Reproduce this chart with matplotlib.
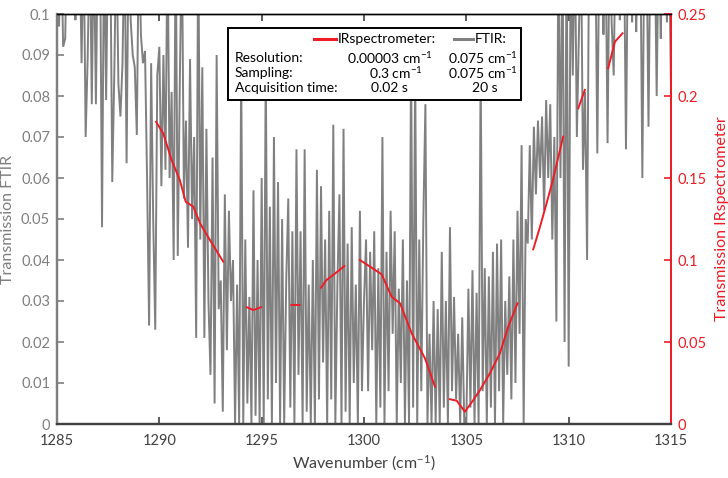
import numpy as np
import matplotlib
matplotlib.use("Agg")
import matplotlib.pyplot as plt
from matplotlib.patches import Rectangle
from matplotlib.lines import Line2D

plt.rcParams["font.family"] = ["Lato", "DejaVu Sans"]
plt.rcParams["mathtext.fontset"] = "custom"
plt.rcParams["mathtext.rm"] = "Lato"
plt.rcParams["mathtext.it"] = "Lato:italic"

# ---------------------------------------------------------------- data
# FTIR transmission, read every 0.1 cm-1 (values > 0.1 run off the top)
f1285 = [0.12, 0.097, 0.12, 0.092, 0.094, 0.12, 0.12, 0.12, 0.12, 0.0985]
f1286 = [0.12, 0.12, 0.088, 0.12, 0.070, 0.0895, 0.12, 0.078, 0.12, 0.078]
f1287 = [0.12, 0.12, 0.048, 0.12, 0.079, 0.12, 0.12, 0.059, 0.0855, 0.12]
f1288 = [0.083, 0.075, 0.088, 0.12, 0.0636, 0.12, 0.0985, 0.09, 0.087, 0.0705]
f1289 = [0.12, 0.095, 0.088, 0.091, 0.06, 0.024, 0.088, 0.05, 0.023, 0.085]
f1290 = [0.092, 0.058, 0.09, 0.062, 0.12, 0.06, 0.081, 0.04, 0.12, 0.041]
f1291 = [0.083, 0.12, 0.055, 0.074, 0.043, 0.089, 0.05, 0.07, 0.021, 0.12]
f1292 = [0.045, 0.087, 0.021, 0.072, 0.03, 0.012, 0.065, 0.005, 0.09, 0.028]
f1293 = [0.035, 0.003, 0.056, 0.018, 0.052, 0.03, 0.04, 0.0, 0.034, 0.0]
f1294 = [0.088, 0.0, 0.045, 0.005, 0.031, 0.0, 0.057, 0.002, 0.04, 0.0]
f1295 = [0.06, 0.0, 0.088, 0.006, 0.053, 0.0, 0.07, 0.01, 0.059, 0.0]
f1296 = [0.05, 0.0, 0.035, 0.055, 0.004, 0.047, 0.0, 0.067, 0.012, 0.047]
f1297 = [0.0, 0.067, 0.003, 0.034, 0.0, 0.04, 0.0, 0.062, 0.006, 0.058]
f1298 = [0.015, 0.045, 0.0, 0.052, 0.006, 0.073, 0.0, 0.034, 0.056, 0.0]
f1299 = [0.072, 0.003, 0.044, 0.0, 0.048, 0.01, 0.034, 0.0, 0.052, 0.008]
f1300 = [0.03, 0.045, 0.008, 0.042, 0.018, 0.047, 0.0, 0.038, 0.004, 0.07]
f1301 = [0.0, 0.042, 0.008, 0.052, 0.022, 0.047, 0.0, 0.033, 0.01, 0.045]
f1302 = [0.0, 0.035, 0.0, 0.09, 0.004, 0.088, 0.0, 0.045, 0.008, 0.05]
f1303 = [0.078, 0.0, 0.022, 0.0, 0.03, 0.0, 0.028, 0.0, 0.042, 0.004]
f1304 = [0.03, 0.0, 0.048, 0.008, 0.031, 0.006, 0.022, 0.0, 0.026, 0.0]
f1305 = [0.0, 0.033, 0.004, 0.0375, 0.0, 0.032, 0.0, 0.088, 0.008, 0.038]
f1306 = [0.0, 0.036, 0.004, 0.042, 0.0, 0.044, 0.008, 0.045, 0.0, 0.03]
f1307 = [0.012, 0.036, 0.006, 0.045, 0.01, 0.052, 0.022, 0.068, 0.0, 0.05]
f1308 = [0.044, 0.068, 0.045, 0.0725, 0.056, 0.074, 0.06, 0.075, 0.052, 0.079]
f1309 = [0.06, 0.078, 0.045, 0.07, 0.025, 0.12, 0.06, 0.12, 0.02, 0.12]
f1310 = [0.014, 0.12, 0.085, 0.12, 0.07, 0.095, 0.12, 0.062, 0.081, 0.04]
f1311 = [0.12, 0.12, 0.12, 0.12, 0.066, 0.12, 0.12, 0.095, 0.12, 0.0685]
f1312 = [0.12, 0.098, 0.085, 0.12, 0.12, 0.0985, 0.12, 0.12, 0.067, 0.12]
f1313 = [0.12, 0.098, 0.12, 0.0956, 0.12, 0.12, 0.06, 0.12, 0.12, 0.0725]
f1314 = [0.12, 0.12, 0.12, 0.08, 0.12, 0.094, 0.12, 0.12, 0.098, 0.12, 0.081]

ftir_t = (f1285 + f1286 + f1287 + f1288 + f1289 + f1290 + f1291 + f1292
          + f1293 + f1294 + f1295 + f1296 + f1297 + f1298 + f1299 + f1300
          + f1301 + f1302 + f1303 + f1304 + f1305 + f1306 + f1307 + f1308
          + f1309 + f1310 + f1311 + f1312 + f1313 + f1314)
ftir_wn = np.linspace(1285, 1315, len(ftir_t))

# IR spectrometer segments (right axis), nan = gap between tuning windows
nan = np.nan
ir_wn = [1289.84, 1290.19, 1290.6, 1291.0, 1291.29, 1291.66, 1291.99, 1292.47, 1293.12, nan,
         1294.27, 1294.6, 1294.97, nan,
         1296.45, 1296.85, nan,
         1297.9, 1298.17, 1298.6, 1299.04, nan,
         1299.8, 1300.86, 1301.35, 1301.76, 1302.33, 1302.98, 1303.47, nan,
         1304.2, 1304.53, 1304.93, 1305.34, 1305.67, 1306.15, 1306.64, 1307.05, 1307.5, nan,
         1308.27, 1308.6, 1308.92, 1309.25, 1309.73, nan,
         1310.47, 1310.79, nan,
         1311.93, 1312.26, 1312.63]
ir_t = [0.1843, 0.1772, 0.161, 0.1488, 0.1355, 0.1325, 0.1224, 0.1122, 0.099, nan,
        0.0712, 0.0695, 0.0712, nan,
        0.0726, 0.0726, nan,
        0.0831, 0.0878, 0.0919, 0.0963, nan,
        0.1, 0.0913, 0.0776, 0.0736, 0.0553, 0.04, 0.0227, nan,
        0.0151, 0.0142, 0.0075, 0.0146, 0.0207, 0.0309, 0.0431, 0.0593, 0.0736, nan,
        0.1065, 0.1203, 0.1345, 0.1498, 0.1752, nan,
        0.1925, 0.2037, nan,
        0.2169, 0.2331, 0.2382]

x_ticks = [1285, 1290, 1295, 1300, 1305, 1310, 1315]
left_ticks = [0, 0.01, 0.02, 0.03, 0.04, 0.05, 0.06, 0.07, 0.08, 0.09, 0.1]
right_ticks = [0, 0.05, 0.1, 0.15, 0.2, 0.25]

table_rows = [("Resolution:", "0.00003 cm$^{-1}$", "0.075 cm$^{-1}$"),
              ("Sampling:", "0.3 cm$^{-1}$", "0.075 cm$^{-1}$"),
              ("Acquisition time:", "0.02 s", "20 s")]

# ---------------------------------------------------------------- style
GRAY = "#808080"
AXGRAY = "#7f7f7f"
DARK = "#404040"
RED = "#ee1c25"
W, H = 728, 478

fig = plt.figure(figsize=(W / 100, H / 100), dpi=100)
ax = fig.add_axes([57 / W, 1 - 424 / H, (671 - 57) / W, (424 - 14) / H])
ax2 = ax.twinx()

ax.plot(ftir_wn, ftir_t, color=GRAY, lw=1.4, solid_joinstyle="miter")
ax2.plot(ir_wn, ir_t, color=RED, lw=1.4)

ax.set_xlim(1285, 1315)
ax.set_ylim(0, 0.1)
ax2.set_ylim(0, 0.25)

ax.set_xticks(x_ticks)
ax.set_xticklabels([str(v) for v in x_ticks])
ax.set_yticks(left_ticks)
ax.set_yticklabels(["0"] + [f"{v:g}" for v in left_ticks[1:]])
ax2.set_yticks(right_ticks)
ax2.set_yticklabels(["0"] + [f"{v:g}" for v in right_ticks[1:]])

ax.tick_params(axis="x", direction="in", length=5, width=1.2, colors=DARK,
               labelsize=10.5, top=True, pad=7)
ax.tick_params(axis="y", direction="in", length=5, width=1.2, colors=AXGRAY,
               labelsize=10.5, pad=5)
ax2.tick_params(axis="y", direction="in", length=5, width=1.2, colors=RED,
                labelsize=10.5, pad=5)

for a in (ax, ax2):
    a.spines["top"].set_color("black")
    a.spines["top"].set_linewidth(1.0)
    a.spines["bottom"].set_color(DARK)
    a.spines["bottom"].set_linewidth(1.6)
    a.spines["left"].set_color(AXGRAY)
    a.spines["left"].set_linewidth(1.6)
    a.spines["right"].set_color(RED)
    a.spines["right"].set_linewidth(1.4)

ax.set_xlabel("Wavenumber (cm$^{-1}$)", fontsize=11.5, color=DARK, labelpad=4)
ax.set_ylabel("Transmission FTIR", fontsize=11.5, color=AXGRAY, labelpad=4)
ax2.set_ylabel("Transmission IRspectrometer", fontsize=11.5, color=RED, labelpad=6)


# ---------------------------------------------------------------- legend box
def fx(px):
    return px / W


def fy(py):
    return 1 - py / H


fig.patches.append(Rectangle((fx(228), fy(100)), fx(521) - fx(228), fy(28) - fy(100),
                             transform=fig.transFigure, fc="white", ec="black",
                             lw=1.4, zorder=5))
fig.lines.append(Line2D([fx(314), fx(336)], [fy(39), fy(39)], transform=fig.transFigure,
                        color=RED, lw=2.2, zorder=6))
fig.lines.append(Line2D([fx(454), fx(473)], [fy(39), fy(39)], transform=fig.transFigure,
                        color=GRAY, lw=2.2, zorder=6))
kw = dict(fontsize=10, color="black", va="center", zorder=7)
fig.text(fx(338), fy(39), "IRspectrometer:", ha="left", **kw)
fig.text(fx(475), fy(39), "FTIR:", ha="left", **kw)
row_y = [58, 73, 88]
col2_x = [390, 396, 389]
col3_x = [483, 483, 485]
for (name, ir, ft), yy, c2, c3 in zip(table_rows, row_y, col2_x, col3_x):
    fig.text(fx(235), fy(yy), name, ha="left", **kw)
    fig.text(fx(c2), fy(yy), ir, ha="center", **kw)
    fig.text(fx(c3), fy(yy), ft, ha="center", **kw)

fig.savefig("out.png", dpi=100)
